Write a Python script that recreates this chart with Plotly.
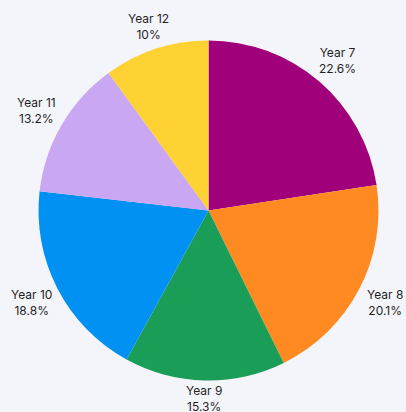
import numpy as np
import plotly.graph_objects as go

labels = ["Year 7", "Year 8", "Year 9", "Year 10", "Year 11", "Year 12"]
values = [22.6, 20.1, 15.3, 18.8, 13.2, 10.0]
colors = ["#a0007a", "#ff8a22", "#1a9e57", "#0091f2", "#c9a7f3", "#ffd233"]

W, H = 406, 412
cx, cy, r = 208.5, 210.5, 170
gap, hw, hh = 6, 20, 12
FONT = "Inter, Roboto, sans-serif"

fig = go.Figure(go.Pie(
    labels=labels,
    values=values,
    sort=False,
    direction="clockwise",
    rotation=0,
    marker=dict(colors=colors, line=dict(width=0)),
    textinfo="none",
    hoverinfo="label+percent",
    showlegend=False,
    domain=dict(x=[(cx - r) / W, (cx + r) / W], y=[1 - (cy + r) / H, 1 - (cy - r) / H]),
))

# outside labels at each slice's mid-angle
vals = np.array(values)
frac = vals / vals.sum()
mid = (np.cumsum(frac) - frac / 2) * 2 * np.pi
for lab, v, a in zip(labels, values, mid):
    s, c = np.sin(a), np.cos(a)
    d = r + gap + abs(s) * hw + abs(c) * hh
    px, py = cx + d * s, cy - d * c
    fig.add_annotation(
        x=px / W, y=1 - py / H, xref="paper", yref="paper",
        text=f"{lab}<br>{v:g}%", showarrow=False,
        xanchor="center", yanchor="middle", align="center",
        font=dict(family=FONT, size=12, color="#1f1f1f"),
    )

fig.update_layout(
    width=W, height=H,
    margin=dict(l=0, r=0, t=0, b=0),
    paper_bgcolor="#f4f5fa",
    plot_bgcolor="#f4f5fa",
)
fig.write_html(
    "out.html",
    config={"displayModeBar": False},
    post_script="document.body.style.margin='0';",
)
